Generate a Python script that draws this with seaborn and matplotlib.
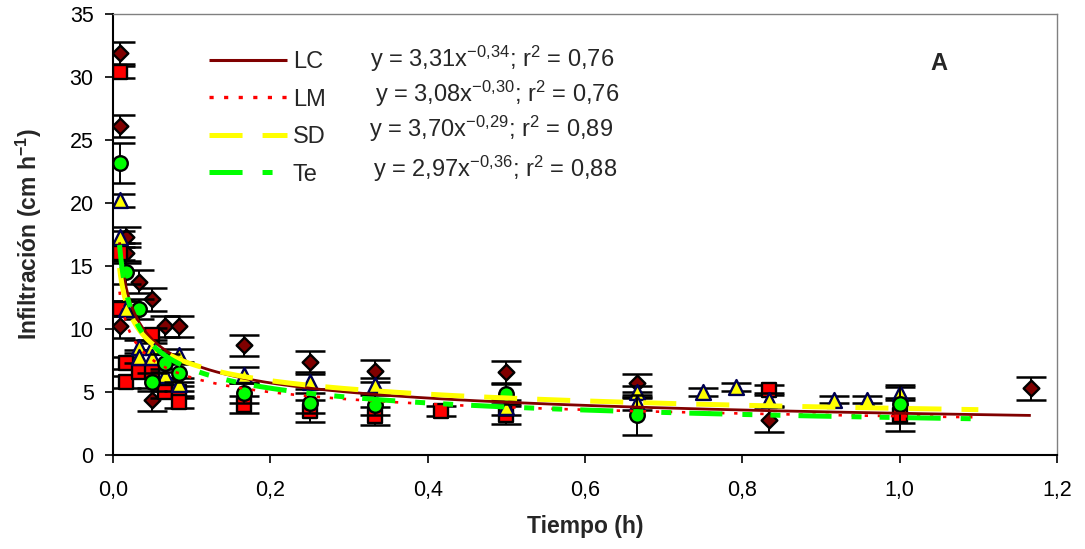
import numpy as np
import pandas as pd
import matplotlib
matplotlib.use("Agg")
import matplotlib.pyplot as plt
from matplotlib.lines import Line2D
import seaborn as sns

# ---------------- data ----------------
series_names = ["LC", "LM", "SD", "Te"]

lc_t = [0.0083, 0.0083, 0.0083, 0.0167, 0.0167, 0.0333, 0.05, 0.05, 0.0667, 0.0833,
        0.1667, 0.25, 0.3333, 0.5, 0.6667, 0.8333, 1.1667]
lc_y = [31.9, 26.1, 10.2, 17.3, 16.0, 13.75, 12.35, 4.4, 10.2, 10.2,
        8.7, 7.4, 6.7, 6.6, 5.7, 2.8, 5.3]
lc_e = [0.9, 0.85, 0.9, 0.8, 0.8, 0.9, 0.9, 0.9, 0.8, 0.8,
        0.85, 0.85, 0.87, 0.85, 0.7, 1.0, 0.9]

lm_t = [0.0083, 0.0083, 0.0083, 0.0167, 0.0167, 0.0333, 0.05, 0.05, 0.0667, 0.0667,
        0.0833, 0.0833, 0.1667, 0.25, 0.3333, 0.4167, 0.5, 0.8333, 1.0]
lm_y = [30.4, 16.0, 11.6, 7.3, 5.8, 6.6, 9.5, 6.6, 5.55, 5.0,
        5.0, 4.2, 4.0, 3.5, 3.1, 3.5, 3.2, 5.15, 3.2]
lm_e = [0.5, 0.5, 0.6, 0.5, 0.5, 0.5, 0.6, 0.5, 0.5, 0.5,
        0.5, 0.5, 0.7, 0.85, 0.7, 0.4, 0.7, 0.4, 1.3]

sd_t = [0.0083, 0.0083, 0.0167, 0.0333, 0.0333, 0.05, 0.05, 0.0667, 0.0833, 0.0833,
        0.1667, 0.25, 0.3333, 0.5, 0.6667, 0.6667, 0.75, 0.7917, 0.8333, 0.9167, 0.9583, 1.0]
sd_y = [20.2, 17.3, 11.6, 8.6, 7.8, 8.6, 7.8, 6.35, 7.9, 5.6,
        6.35, 5.8, 5.55, 3.8, 5.0, 4.1, 5.0, 5.4, 4.4, 4.4, 4.4, 4.9]
sd_e = [0.5, 0.5, 0.6, 0.5, 0.5, 0.5, 0.5, 0.5, 0.5, 0.5,
        0.6, 0.6, 0.6, 0.6, 0.5, 0.5, 0.35, 0.3, 0.5, 0.3, 0.3, 0.5]

te_t = [0.0083, 0.0167, 0.0333, 0.05, 0.0667, 0.0833, 0.1667, 0.25, 0.3333, 0.5, 0.6667, 1.0]
te_y = [23.2, 14.5, 11.6, 5.8, 7.3, 6.5, 4.9, 4.15, 3.97, 4.84, 3.2, 4.05]
te_e = [1.6, 0.9, 0.8, 0.7, 0.7, 0.7, 0.8, 0.8, 0.8, 0.8, 1.6, 1.5]

# power-law trend lines y = a * t^b (coefficients printed on the chart)
fit_a = [3.31, 3.08, 3.70, 2.97]
fit_b = [-0.34, -0.30, -0.29, -0.36]
fit_r2 = ["0,76", "0,76", "0,89", "0,88"]
fit_a_txt = ["3,31", "3,08", "3,70", "2,97"]
fit_b_txt = ["-0,34", "-0,30", "-0,29", "-0,36"]
fit_tmin = [0.0083, 0.0083, 0.0083, 0.0083]
fit_tmax = [1.1667, 1.10, 1.10, 1.10]

x_ticks = [0.0, 0.2, 0.4, 0.6, 0.8, 1.0, 1.2]
x_tick_labels = ["0,0", "0,2", "0,4", "0,6", "0,8", "1,0", "1,2"]
y_ticks = [0, 5, 10, 15, 20, 25, 30, 35]
y_tick_labels = ["0", "5", "10", "15", "20", "25", "30", "35"]

# ---------------- style ----------------
sns.set_theme(style="white")
plt.rcParams["font.family"] = ["Liberation Sans", "DejaVu Sans"]
plt.rcParams["mathtext.fontset"] = "custom"
plt.rcParams["mathtext.rm"] = "Liberation Sans"
plt.rcParams["mathtext.it"] = "Liberation Sans:italic"
plt.rcParams["mathtext.bf"] = "Liberation Sans:bold"
plt.rcParams["lines.scale_dashes"] = False

W, H = 1085, 549
fig = plt.figure(figsize=(W / 100, H / 100), dpi=100)
ax = fig.add_axes([113 / W, 1 - 455 / H, (1057 - 113) / W, (455 - 14) / H])

point_sets = [(lc_t, lc_y, lc_e), (lm_t, lm_y, lm_e), (sd_t, sd_y, sd_e), (te_t, te_y, te_e)]
mk_fill = ["#800000", "#FF0000", "#FFFF00", "#00FF00"]
mk_edge = ["#000000", "#000000", "#000050", "#000000"]
mk_shape = ["D", "s", "^", "o"]
mk_size = [64, 105, 115, 110]

for i, (t, y, e) in enumerate(point_sets):
    df = pd.DataFrame({"t": t, "y": y, "e": e})
    ax.errorbar(df["t"], df["y"], yerr=df["e"], fmt="none", ecolor="black",
                elinewidth=1.4, capsize=10.5, capthick=1.8, zorder=2 + i * 0.1)
    sns.scatterplot(data=df, x="t", y="y", ax=ax, marker=mk_shape[i], s=mk_size[i],
                    color=mk_fill[i], edgecolor=mk_edge[i], linewidth=1.7,
                    zorder=2.05 + i * 0.1, legend=False)

line_colors = ["#800000", "#FF0000", "#FFFF00", "#00FF00"]
line_widths = [2.0, 1.9, 3.6, 3.6]
line_dashes = [(0, ()), (0, (2.4, 7.0)), (0, (23.8, 14.4)),
               (0, (23.8, 14.4, 7.2, 13.0, 7.2, 13.0))]
draw_order = [2, 3, 1, 0]
for k in draw_order:
    tt = np.geomspace(fit_tmin[k], fit_tmax[k], 400)
    cdf = pd.DataFrame({"t": tt, "y": fit_a[k] * tt ** fit_b[k]})
    sns.lineplot(data=cdf, x="t", y="y", ax=ax, color=line_colors[k],
                 linewidth=line_widths[k], zorder=5 + k * 0.1, legend=False)
    ax.lines[-1].set_linestyle(line_dashes[k])
    ax.lines[-1].set_dash_capstyle("butt")

# ---------------- axes ----------------
ax.set_xlim(0, 1.2)
ax.set_ylim(0, 35)
ax.set_xticks(x_ticks)
ax.set_xticklabels(x_tick_labels)
ax.set_yticks(y_ticks)
ax.set_yticklabels(y_tick_labels)
ax.tick_params(axis="x", direction="out", length=6, width=1.2, pad=12,
               labelsize=15.5, colors="black", bottom=True)
ax.tick_params(axis="y", direction="out", length=6, width=1.2, pad=8,
               labelsize=15.5, colors="black", left=True)
for s in ["left", "bottom"]:
    ax.spines[s].set_color("black")
    ax.spines[s].set_linewidth(1.5)
for s in ["top", "right"]:
    ax.spines[s].set_color("#808080")
    ax.spines[s].set_linewidth(1.0)
ax.set_xlabel("Tiempo (h)", fontsize=16.5, fontweight="bold", labelpad=10)
ax.set_ylabel("Infiltración (cm h$^{\\mathbf{-1}}$)", fontsize=16.5,
              fontweight="bold", labelpad=18)

# ---------------- legend & equations ----------------
handles = [Line2D([], [], color=line_colors[k], lw=line_widths[k],
                  linestyle=line_dashes[k], dash_capstyle="butt")
           for k in range(4)]
handles[0].set_linewidth(2.2)
handles[1].set_linestyle((0, (3.0, 7.5)))
handles[1].set_linewidth(2.4)
leg = ax.legend(handles, series_names, loc="upper left",
                bbox_to_anchor=(209 / W, 1 - 51 / H), bbox_transform=fig.transFigure,
                frameon=False, fontsize=17, handlelength=3.3, handletextpad=0.25,
                labelspacing=0.66, borderpad=0, borderaxespad=0)

eq_x = [370, 375, 369, 373]
eq_base = [66.7, 101.7, 136.7, 176.7]
for k in range(4):
    txt = "y = %sx$^{%s}$; r$^{2}$ = %s" % (fit_a_txt[k], fit_b_txt[k].replace(",", "{,}"), fit_r2[k])
    fig.text(eq_x[k] / W, 1 - eq_base[k] / H, txt, fontsize=17, ha="left", va="baseline")

fig.text(939 / W, 1 - 63 / H, "A", fontsize=17, fontweight="bold", ha="center", va="center")

fig.savefig("out.png", dpi=100)
